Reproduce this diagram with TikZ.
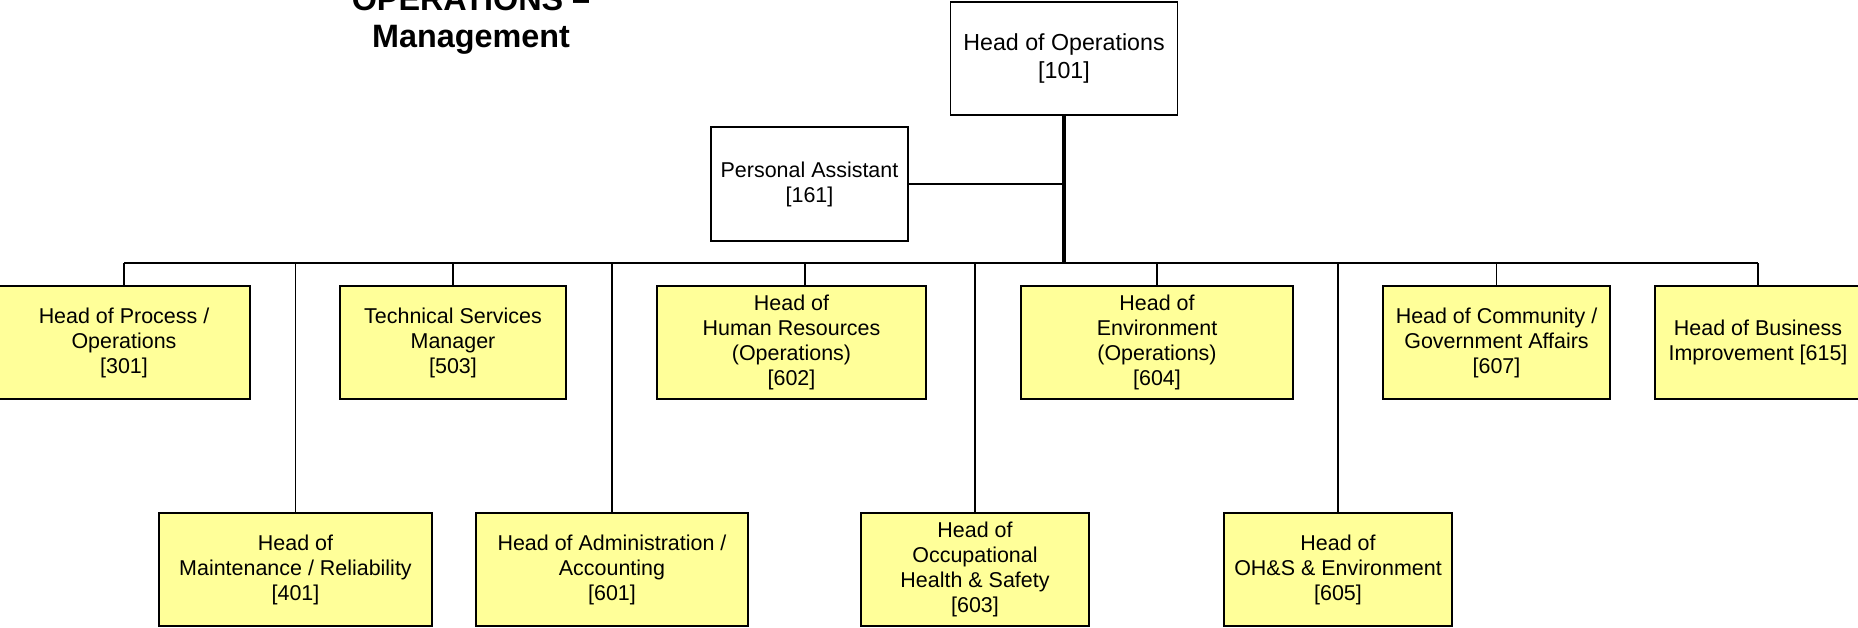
\documentclass[tikz,border=0pt]{standalone}
\usepackage{fontspec}
\setmainfont{Liberation Sans}
\usetikzlibrary{positioning}
\definecolor{orgyellow}{RGB}{255,255,153}

\begin{document}
\begin{tikzpicture}[
    x=0.01cm, y=-0.01cm,
    post/.style={draw, line width=0.45pt, align=center, inner sep=0pt, minimum height=1.13cm, font=\fontsize{6.1}{7.1}\selectfont},
    dept/.style={post, fill=orgyellow},
    link/.style={line width=0.4pt},
    trunk/.style={line width=0.9pt}
]
\useasboundingbox (0,0) rectangle (1858,628);
\node[font=\fontsize{9.2}{10.4}\selectfont\bfseries, align=center, anchor=south, inner sep=0pt] (title) at (471,55) {OPERATIONS –\\Management};
\node[post, minimum width=2.27cm, font=\fontsize{6.6}{8}\selectfont] (head) at (1064,58.5) {Head of Operations\\{}[101]};
\node[post, minimum width=1.97cm, minimum height=1.14cm] (pa) at (809.5,184) {Personal Assistant\\{}[161]};
\node[dept, minimum width=2.52cm] (proc) at (124,342.5) {Head of Process /\\Operations\\{}[301]};
\node[dept, minimum width=2.26cm] (tech) at (453,342.5) {Technical Services\\Manager\\{}[503]};
\node[dept, minimum width=2.69cm] (hr) at (791.5,342.5) {Head of\\Human Resources\\(Operations)\\{}[602]};
\node[dept, minimum width=2.72cm] (env) at (1157,342.5) {Head of\\Environment\\(Operations)\\{}[604]};
\node[dept, minimum width=2.27cm] (comm) at (1496.5,342.5) {Head of Community /\\Government Affairs\\{}[607]};
\node[dept, minimum width=2.06cm] (bizimp) at (1758,342.5) {Head of Business\\Improvement [615]};
\node[dept, minimum width=2.73cm] (maint) at (295.5,569.5) {Head of\\Maintenance / Reliability\\{}[401]};
\node[dept, minimum width=2.72cm] (admin) at (612,569.5) {Head of Administration /\\Accounting\\{}[601]};
\node[dept, minimum width=2.28cm] (ohs) at (975,569.5) {Head of\\Occupational\\Health \& Safety\\{}[603]};
\node[dept, minimum width=2.28cm] (ohsenv) at (1338,569.5) {Head of\\OH\&S \& Environment\\{}[605]};
\coordinate (bus) at (0,263);
\draw[trunk] (head) -- (head |- bus);
\draw[link] (pa) -- (pa -| head);
\draw[link] (proc |- bus) -- (bizimp |- bus);
\foreach \n in {proc,tech,env,comm,bizimp,maint,admin,ohs,ohsenv}
    \draw[link] (\n.north) -- (\n |- bus);
\draw[link] ([xshift=0.135cm]hr.north) -- ([xshift=0.135cm]hr.north |- bus);
\end{tikzpicture}
\end{document}
